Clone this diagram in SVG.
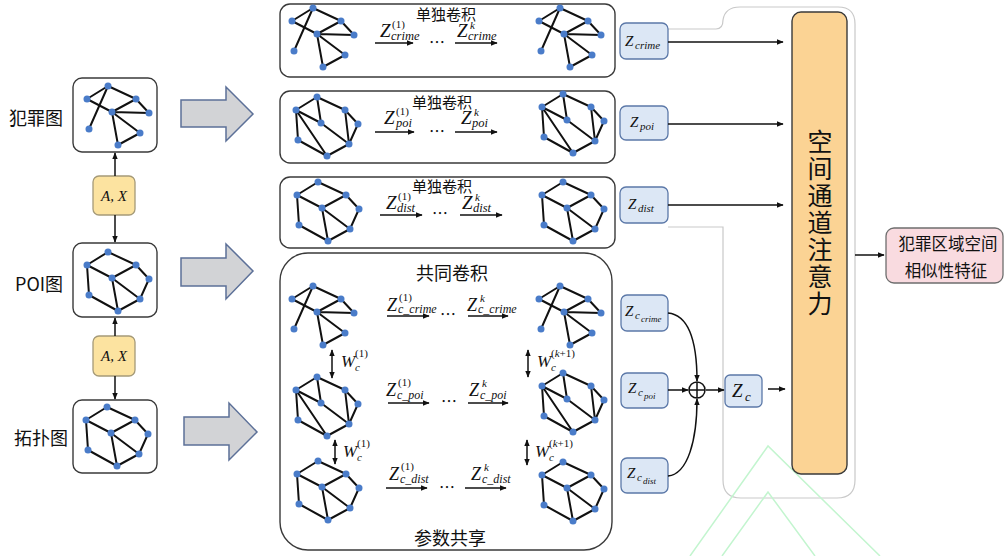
<svg xmlns="http://www.w3.org/2000/svg" xmlns:xlink="http://www.w3.org/1999/xlink" width="1005" height="556" viewBox="0 0 1005 556">
<style>
.cn{font-family:"Noto Sans CJK SC","Noto Sans",sans-serif;fill:#111}
.m{font-family:"Liberation Serif","DejaVu Serif",serif;font-style:italic;fill:#111}
.up{font-style:normal}
.gbox{fill:#fff;stroke:#3a3a3a;stroke-width:1.4}
.zbox{fill:#dce7f5;stroke:#5b78a8;stroke-width:1.3}
.ax{fill:#fce3a0;stroke:#a59a78;stroke-width:1.3}
.big{fill:#d2d3d6;stroke:#5c7098;stroke-width:1.5}
.edge{fill:none;stroke:#111;stroke-width:2;stroke-linejoin:round}
.nd{fill:#4a7cc9}
.arr{fill:none;stroke:#111;stroke-width:1.5}
.wm{fill:none;stroke:#c3f5cf;stroke-width:1.5}
</style>
<defs>
<marker id="ah" viewBox="0 0 10 10" refX="9" refY="5" markerWidth="7" markerHeight="7" markerUnits="userSpaceOnUse" orient="auto-start-reverse"><path d="M0,1 L10,5 L0,9 z" fill="#111"/></marker>
<g id="pts">
<circle class="nd" cx="0" cy="0" r="3.5"/><circle class="nd" cx="-21" cy="13" r="3.5"/><circle class="nd" cx="28" cy="13" r="3.5"/><circle class="nd" cx="41" cy="27" r="3.5"/><circle class="nd" cx="4" cy="26" r="3.5"/><circle class="nd" cx="-19" cy="43" r="3.5"/><circle class="nd" cx="32" cy="47" r="3.5"/><circle class="nd" cx="10" cy="59" r="3.5"/>
</g>
<g id="crime"><path class="edge" d="M-21,13 L0,0 L28,13 L41,27 L4,26 L-21,13 M0,0 L-19,43 M4,26 L28,13 M4,26 L32,47 L10,59 L4,26"/><use xlink:href="#pts"/></g>
<g id="hex"><path class="edge" d="M-21,13 L0,0 L28,13 L41,27 L32,47 L10,59 L-19,43 L-21,13 L4,26 L28,13 M4,26 L10,59 M4,26 L32,47"/><use xlink:href="#pts"/></g>
<g id="poi"><path class="edge" d="M-21,13 L0,0 L28,13 L41,27 L32,47 L10,59 L-19,43 L-21,13 L4,26 L32,47 L28,13 M0,0 L4,26 M-21,13 L10,59"/><use xlink:href="#pts"/></g>
</defs>
<rect width="1005" height="556" fill="#fff"/>

<!-- container behind attention -->
<path d="M668,29 L716,29 Q723,29 723,20 Q725,7 740,7 L838,7 Q855,7 855,24 L855,480 Q855,498 837,498 L741,498 Q723,498 723,480 L723,227 L668,227" fill="#fff" stroke="#c9c9c9" stroke-width="1.2"/>

<!-- watermark -->
<path class="wm" d="M690,556 L768,446 L880,556 M722,556 L768,492 L815,556"/>

<!-- left graphs -->
<g id="crime-graph">
<text class="cn" x="36" y="117" font-size="18" text-anchor="middle" dominant-baseline="central">犯罪图</text>
<rect x="73" y="78" width="84" height="74" rx="9" class="gbox"/>
<use xlink:href="#crime" x="108" y="86"/>
</g>
<g id="ax1"><rect x="93" y="176" width="42" height="39" rx="6" class="ax"/><text class="m" x="114" y="201" font-size="15" text-anchor="middle">A, X</text></g>
<g id="poi-graph">
<text class="cn" x="39" y="283" font-size="18" text-anchor="middle" dominant-baseline="central">POI图</text>
<rect x="73" y="243" width="84" height="74" rx="9" class="gbox"/>
<use xlink:href="#hex" x="108" y="252"/>
</g>
<g id="ax2"><rect x="93" y="336" width="42" height="40" rx="6" class="ax"/><text class="m" x="114" y="361" font-size="15" text-anchor="middle">A, X</text></g>
<g id="topo-graph">
<text class="cn" x="41" y="437" font-size="18" text-anchor="middle" dominant-baseline="central">拓扑图</text>
<rect x="73" y="400" width="84" height="73" rx="9" class="gbox"/>
<use xlink:href="#hex" x="107" y="407"/>
</g>

<!-- big arrows -->
<g id="big-arrows">
<path class="big" d="M181,100 L226,100 L226,87 L253,114 L226,141 L226,127 L181,127 Z"/>
<path class="big" d="M181,258 L226,258 L226,244 L253,271 L226,299 L226,286 L181,286 Z"/>
<path class="big" d="M184,417 L229,417 L229,403 L257,432 L229,460 L229,445 L184,445 Z"/>
</g>

<!-- separate conv boxes -->
<g id="sep-crime">
<rect x="280" y="4" width="335" height="73" rx="10" class="gbox"/>
<text class="cn" x="446" y="13" font-size="15" text-anchor="middle" dominant-baseline="central">单独卷积</text>
<use xlink:href="#crime" x="313" y="8"/>
<use xlink:href="#crime" x="560" y="8"/>
<text class="m" x="380" y="37" font-size="19">Z</text><text class="m up" x="392" y="28" font-size="11">(1)</text><text class="m" x="391" y="40" font-size="12.5">crime</text>
<text class="m" x="457" y="37" font-size="19">Z</text><text class="m" x="470" y="29" font-size="11">k</text><text class="m" x="468" y="40" font-size="12.5">crime</text>
<text class="cn" x="437" y="48" font-size="16" text-anchor="middle">…</text>
</g>
<g id="sep-poi">
<rect x="280" y="91" width="335" height="72" rx="10" class="gbox"/>
<text class="cn" x="442" y="101" font-size="15" text-anchor="middle" dominant-baseline="central">单独卷积</text>
<use xlink:href="#poi" x="317" y="97"/>
<use xlink:href="#poi" x="563" y="94"/>
<text class="m" x="384" y="124" font-size="19">Z</text><text class="m up" x="396" y="115" font-size="11">(1)</text><text class="m" x="396" y="127" font-size="12.5">poi</text>
<text class="m" x="461" y="124" font-size="19">Z</text><text class="m" x="474" y="116" font-size="11">k</text><text class="m" x="472" y="127" font-size="12.5">poi</text>
<text class="cn" x="437" y="137" font-size="16" text-anchor="middle">…</text>
</g>
<g id="sep-dist">
<rect x="280" y="177" width="335" height="71" rx="10" class="gbox"/>
<text class="cn" x="442" y="185" font-size="15" text-anchor="middle" dominant-baseline="central">单独卷积</text>
<use xlink:href="#hex" x="318" y="182"/>
<use xlink:href="#hex" x="563" y="182"/>
<text class="m" x="386" y="209" font-size="19">Z</text><text class="m up" x="398" y="200" font-size="11">(1)</text><text class="m" x="397" y="212" font-size="12.5">dist</text>
<text class="m" x="462" y="209" font-size="19">Z</text><text class="m" x="475" y="201" font-size="11">k</text><text class="m" x="473" y="212" font-size="12.5">dist</text>
<text class="cn" x="440" y="219" font-size="16" text-anchor="middle">…</text>
</g>

<!-- shared conv box -->
<g id="shared">
<rect x="280" y="253" width="332" height="297" rx="28" class="gbox"/>
<text class="cn" x="452" y="272" font-size="18" text-anchor="middle" dominant-baseline="central">共同卷积</text>
<text class="cn" x="450" y="537" font-size="18" text-anchor="middle" dominant-baseline="central">参数共享</text>
<use xlink:href="#crime" x="313" y="286"/>
<use xlink:href="#crime" x="560" y="286"/>
<use xlink:href="#poi" x="317" y="377"/>
<use xlink:href="#poi" x="563" y="373"/>
<use xlink:href="#hex" x="318" y="461"/>
<use xlink:href="#hex" x="563" y="462"/>
<text class="m" x="387" y="311" font-size="18">Z</text><text class="m up" x="399" y="301" font-size="11">(1)</text><text class="m" x="398" y="313" font-size="12">c_crime</text>
<text class="m" x="467" y="311" font-size="18">Z</text><text class="m" x="480" y="302" font-size="11">k</text><text class="m" x="478" y="313" font-size="12">c_crime</text>
<text class="cn" x="448" y="320" font-size="16" text-anchor="middle">…</text>
<text class="m" x="386" y="396" font-size="18">Z</text><text class="m up" x="398" y="386" font-size="11">(1)</text><text class="m" x="397" y="399" font-size="12">c_poi</text>
<text class="m" x="469" y="396" font-size="18">Z</text><text class="m" x="482" y="387" font-size="11">k</text><text class="m" x="480" y="399" font-size="12">c_poi</text>
<text class="cn" x="449" y="407" font-size="16" text-anchor="middle">…</text>
<text class="m" x="389" y="480" font-size="18">Z</text><text class="m up" x="401" y="470" font-size="11">(1)</text><text class="m" x="400" y="483" font-size="12">c_dist</text>
<text class="m" x="471" y="480" font-size="18">Z</text><text class="m" x="484" y="471" font-size="11">k</text><text class="m" x="482" y="483" font-size="12">c_dist</text>
<text class="cn" x="447" y="493" font-size="16" text-anchor="middle">…</text>
<text class="m" x="341" y="367" font-size="17">W</text><text class="m up" x="355" y="357" font-size="11">(1)</text><text class="m" x="355" y="371" font-size="11">c</text>
<text class="m" x="537" y="367" font-size="17">W</text><text class="m up" x="551" y="357" font-size="11">(<tspan font-style="italic">k</tspan>+1)</text><text class="m" x="551" y="371" font-size="11">c</text>
<text class="m" x="343" y="457" font-size="17">W</text><text class="m up" x="357" y="447" font-size="11">(1)</text><text class="m" x="357" y="461" font-size="11">c</text>
<text class="m" x="535" y="457" font-size="17">W</text><text class="m up" x="549" y="447" font-size="11">(<tspan font-style="italic">k</tspan>+1)</text><text class="m" x="549" y="461" font-size="11">c</text>
</g>

<!-- Z boxes -->
<g id="z-crime"><rect x="620" y="23" width="48" height="36" rx="6" class="zbox"/><text class="m" x="625" y="46" font-size="15">Z</text><text class="m" x="635" y="49" font-size="11">crime</text></g>
<g id="z-poi"><rect x="620" y="106" width="48" height="34" rx="6" class="zbox"/><text class="m" x="630" y="127" font-size="15">Z</text><text class="m" x="640" y="130" font-size="11">poi</text></g>
<g id="z-dist"><rect x="620" y="187" width="48" height="36" rx="6" class="zbox"/><text class="m" x="628" y="209" font-size="15">Z</text><text class="m" x="638" y="212" font-size="11">dist</text></g>
<g id="zc-crime"><rect x="621" y="295" width="47" height="36" rx="6" class="zbox"/><text class="m" x="625" y="316" font-size="15">Z</text><text class="m" x="635" y="319" font-size="11">c</text><text class="m" x="641" y="322" font-size="9">crime</text></g>
<g id="zc-poi"><rect x="621" y="373" width="47" height="35" rx="6" class="zbox"/><text class="m" x="628" y="393" font-size="15">Z</text><text class="m" x="638" y="396" font-size="11">c</text><text class="m" x="644" y="399" font-size="9">poi</text></g>
<g id="zc-dist"><rect x="621" y="458" width="47" height="35" rx="6" class="zbox"/><text class="m" x="627" y="478" font-size="15">Z</text><text class="m" x="637" y="481" font-size="11">c</text><text class="m" x="643" y="484" font-size="9">dist</text></g>
<g id="oplus"><circle cx="697" cy="390" r="8" fill="#fff" stroke="#111" stroke-width="1.5"/><path d="M689,390 H705 M697,382 V398" stroke="#111" stroke-width="1.5"/></g>
<g id="zc"><rect x="725" y="375" width="37" height="32" rx="5" class="zbox"/><text class="m" x="732" y="397" font-size="19">Z</text><text class="m" x="745" y="401" font-size="13">c</text></g>

<!-- attention -->
<g id="attention">
<rect x="792" y="12" width="55" height="462" rx="9" fill="#fbd394" stroke="#3a3a3a" stroke-width="1.4"/>
<text class="cn" font-size="25" text-anchor="middle" dominant-baseline="central">
<tspan x="820" y="140">空</tspan><tspan x="820" y="167">间</tspan><tspan x="820" y="194">通</tspan><tspan x="820" y="221">道</tspan><tspan x="820" y="248">注</tspan><tspan x="820" y="275">意</tspan><tspan x="820" y="302">力</tspan>
</text>
</g>
<g id="output">
<rect x="886" y="228" width="117" height="55" rx="8" fill="#f9dbe0" stroke="#6e6e6e" stroke-width="1.3"/>
<text class="cn" x="948" y="243" font-size="16.5" text-anchor="middle" dominant-baseline="central">犯罪区域空间</text>
<text class="cn" x="946" y="270" font-size="16.5" text-anchor="middle" dominant-baseline="central">相似性特征</text>
</g>

<!-- connectors -->
<g id="connectors">
<line class="arr" x1="115" y1="176" x2="115" y2="153" marker-end="url(#ah)"/>
<line class="arr" x1="115" y1="215" x2="115" y2="242" marker-end="url(#ah)"/>
<line class="arr" x1="115" y1="336" x2="115" y2="318" marker-end="url(#ah)"/>
<line class="arr" x1="115" y1="376" x2="115" y2="399" marker-end="url(#ah)"/>
<line class="arr" x1="375" y1="43" x2="413" y2="43" marker-end="url(#ah)"/>
<line class="arr" x1="455" y1="43" x2="497" y2="43" marker-end="url(#ah)"/>
<line class="arr" x1="375" y1="132" x2="414" y2="132" marker-end="url(#ah)"/>
<line class="arr" x1="455" y1="132" x2="497" y2="132" marker-end="url(#ah)"/>
<line class="arr" x1="380" y1="215" x2="422" y2="215" marker-end="url(#ah)"/>
<line class="arr" x1="460" y1="215" x2="502" y2="215" marker-end="url(#ah)"/>
<line class="arr" x1="387" y1="316" x2="429" y2="316" marker-end="url(#ah)"/>
<line class="arr" x1="468" y1="316" x2="508" y2="316" marker-end="url(#ah)"/>
<line class="arr" x1="388" y1="403" x2="429" y2="403" marker-end="url(#ah)"/>
<line class="arr" x1="468" y1="403" x2="508" y2="403" marker-end="url(#ah)"/>
<line class="arr" x1="386" y1="488" x2="427" y2="488" marker-end="url(#ah)"/>
<line class="arr" x1="465" y1="488" x2="506" y2="488" marker-end="url(#ah)"/>
<line class="arr" x1="332" y1="350" x2="332" y2="378" marker-start="url(#ah)" marker-end="url(#ah)"/>
<line class="arr" x1="528" y1="350" x2="528" y2="377" marker-start="url(#ah)" marker-end="url(#ah)"/>
<line class="arr" x1="335" y1="440" x2="335" y2="464" marker-start="url(#ah)" marker-end="url(#ah)"/>
<line class="arr" x1="527" y1="440" x2="527" y2="465" marker-start="url(#ah)" marker-end="url(#ah)"/>
<line class="arr" x1="668" y1="42" x2="783" y2="42" marker-end="url(#ah)"/>
<line class="arr" x1="668" y1="124" x2="783" y2="124" marker-end="url(#ah)"/>
<line class="arr" x1="668" y1="205" x2="783" y2="205" marker-end="url(#ah)"/>
<path class="arr" d="M668,313 C688,315 697,340 697,381" marker-end="url(#ah)"/>
<path class="arr" d="M668,476 C688,474 697,440 697,399" marker-end="url(#ah)"/>
<line class="arr" x1="668" y1="390" x2="688" y2="390" marker-end="url(#ah)"/>
<line class="arr" x1="706" y1="390" x2="724" y2="390" marker-end="url(#ah)"/>
<line class="arr" x1="768" y1="389" x2="785" y2="389" marker-end="url(#ah)"/>
<line class="arr" x1="855" y1="255" x2="884" y2="255" marker-end="url(#ah)"/>
</g>
</svg>
